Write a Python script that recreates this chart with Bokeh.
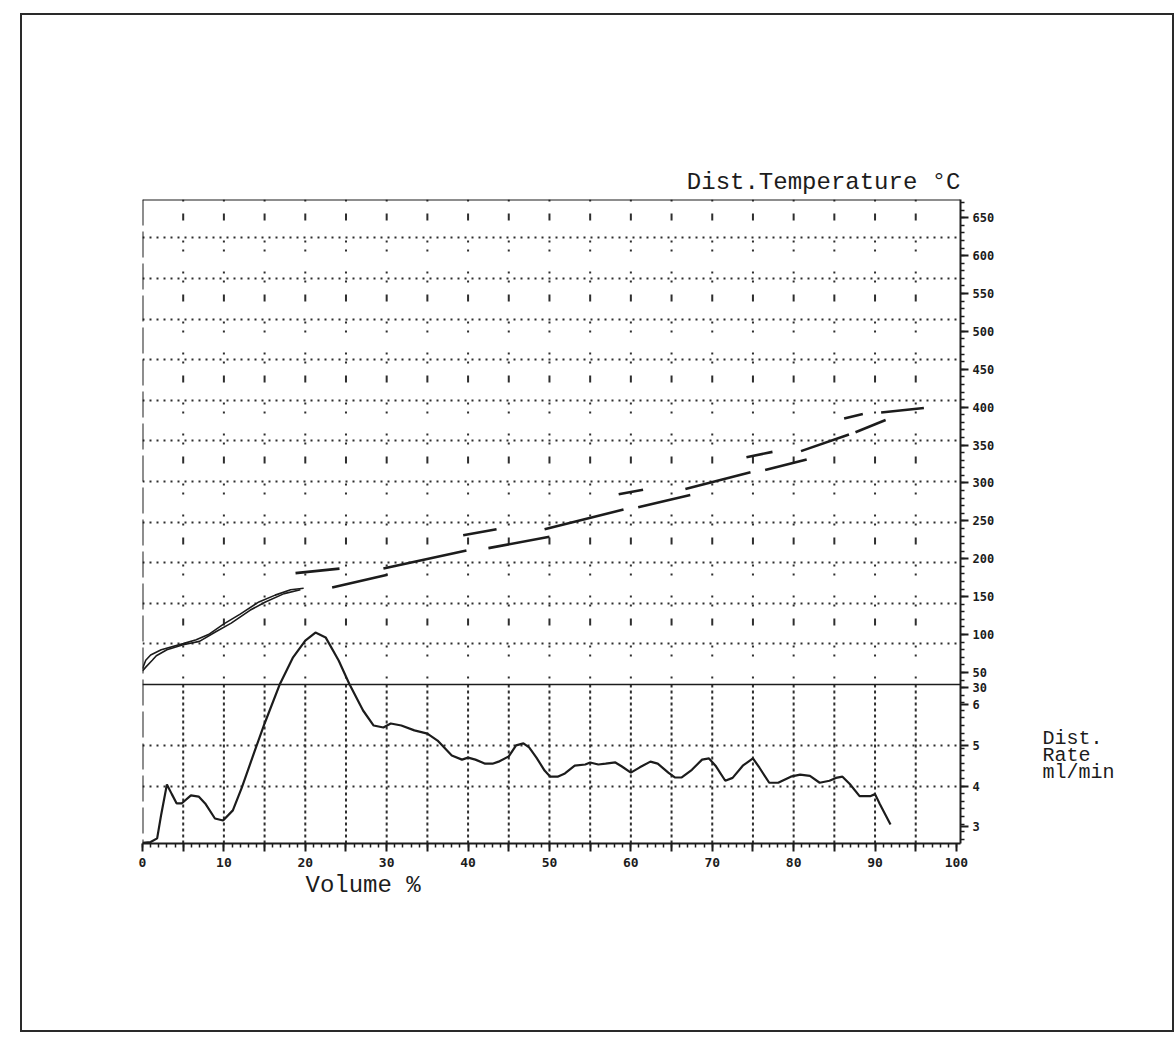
from bokeh.plotting import figure
from bokeh.models import Range1d, LinearAxis, FixedTicker, Grid, Span, Label, ColumnDataSource
from bokeh.embed import file_html
from bokeh.resources import INLINE

# ---- distillation rate (ml/min) against volume distilled (%) ----
rate_volume = [0.0, 1.0, 1.8, 2.3, 3.0, 3.6, 4.2, 4.8, 5.95, 6.9, 7.7, 8.9, 9.9, 11.1, 12.2,
               13.8, 15.0, 16.9, 18.5, 20.0, 21.25, 22.5, 24.1, 25.4, 27.1, 28.4, 29.6, 30.5,
               31.8, 33.4, 35.0, 36.25, 38.0, 39.25, 40.0, 40.9, 42.1, 43.0, 43.75, 45.0, 45.9,
               46.8, 47.5, 48.4, 49.4, 50.1, 51.0, 51.9, 53.1, 54.4, 55.0, 56.0, 56.9, 58.1,
               58.9, 60.0, 61.1, 62.4, 63.3, 64.6, 65.4, 66.25, 67.5, 68.75, 69.6, 70.4, 71.6,
               72.5, 73.75, 75.0, 75.8, 77.0, 78.1, 79.65, 80.8, 82.0, 83.2, 84.4, 85.2, 86.0,
               86.9, 88.1, 89.4, 90.0, 90.6, 91.9]
rate_values = [2.6, 2.62, 2.71, 3.3, 4.04, 3.8, 3.57, 3.57, 3.77, 3.74, 3.57, 3.20, 3.15, 3.40, 3.96,
               4.87, 5.54, 6.52, 7.17, 7.58, 7.78, 7.66, 7.09, 6.52, 5.86, 5.49, 5.44, 5.54,
               5.49, 5.37, 5.29, 5.12, 4.75, 4.65, 4.70, 4.65, 4.55, 4.55, 4.60, 4.73, 5.0,
               5.05, 4.95, 4.70, 4.38, 4.23, 4.23, 4.31, 4.50, 4.53, 4.58, 4.53, 4.55, 4.58,
               4.48, 4.33, 4.46, 4.60, 4.55, 4.33, 4.21, 4.21, 4.40, 4.65, 4.68, 4.50, 4.13,
               4.20, 4.50, 4.68, 4.45, 4.08, 4.08, 4.23, 4.28, 4.25, 4.08, 4.13, 4.20, 4.23,
               4.05, 3.75, 3.75, 3.80, 3.55, 3.05]

# ---- distillation temperature (deg C), two traced strands up to ~20 % ----
temp_volume_a = [0.0, 0.4, 1.0, 2.3, 5.0, 6.6, 8.1, 10.0, 12.0, 14.3, 16.3, 18.2, 19.8]
temp_values_a = [55, 66, 73, 80, 88, 93, 100, 114, 127, 143, 152, 159, 161]
temp_volume_b = [0.0, 0.4, 1.2, 1.7, 3.0, 5.0, 7.0, 8.9, 10.9, 13.2, 15.1, 17.4, 19.4]
temp_values_b = [52, 57, 66, 72, 80, 86.5, 91, 103, 115, 132, 143, 154, 159]

# ---- plotter dashes of the temperature trace above 20 % (start / end) ----
dash_volume_start = [18.8, 23.3, 29.6, 39.4, 42.5, 49.4, 58.5, 60.9, 66.7, 74.2, 76.5, 80.9, 86.2, 87.6, 90.75]
dash_temp_start = [181, 162, 187, 231, 214, 239, 285, 268, 292, 334, 317, 342, 385, 367, 393]
dash_volume_end = [24.2, 30.1, 39.8, 43.5, 50.0, 59.1, 61.5, 67.3, 74.7, 77.4, 81.6, 86.8, 88.5, 91.3, 96.0]
dash_temp_end = [187, 179, 211, 239, 229, 265, 291, 284, 314, 341, 331, 364, 391, 383, 399]

# ---- axis ticks ----
volume_ticks = list(range(0, 101, 5))
volume_labels = {v: (str(v) if v % 10 == 0 else "") for v in volume_ticks}
temp_ticks = [650, 600, 550, 500, 450, 400, 350, 300, 250, 200, 150, 100, 50, 30]
rate_ticks = [6, 5, 4, 3]
rate_grid_levels = [5, 4]
rate_title = ["Dist.", "Rate", "ml/min"]

# ---- layout ----
VOL_RANGE = (0.0, 100.5)
TEMP_RANGE = (-175.7, 674.0)
RATE_RANGE = (2.584, 18.446)
RATE_BASELINE = 6.5          # solid line dividing the two panels
FRAME_W, FRAME_H = 818, 644
LEFT, RIGHT, TOP, BOTTOM = 120, 212, 184, 187

INK = "#1c1c1c"
GRID_INK = "#2e2e2e"
MONO = "Liberation Mono"
DIGITS = "DejaVu Sans Mono"


def rate_as_temp(r):
    """Position of a rate value expressed on the temperature scale."""
    t0, t1 = TEMP_RANGE
    r0, r1 = RATE_RANGE
    return round(t0 + (r - r0) * (t1 - t0) / (r1 - r0), 4)


def vol_at(px):
    """Volume coordinate of a horizontal offset (px) from the frame's left edge."""
    return VOL_RANGE[0] + px * (VOL_RANGE[1] - VOL_RANGE[0]) / FRAME_W


def temp_at(py):
    """Temperature coordinate of a vertical offset (px) from the frame's top edge."""
    return TEMP_RANGE[1] - py * (TEMP_RANGE[1] - TEMP_RANGE[0]) / FRAME_H


p = figure(frame_width=FRAME_W, frame_height=FRAME_H,
           x_range=Range1d(*VOL_RANGE), y_range=Range1d(*TEMP_RANGE),
           x_axis_location=None, y_axis_location=None,
           output_backend="svg", toolbar_location=None,
           min_border_left=LEFT, min_border_right=RIGHT,
           min_border_top=TOP, min_border_bottom=BOTTOM,
           background_fill_color="white", border_fill_color="white",
           outline_line_color=None)
p.extra_y_ranges = {"rate": Range1d(*RATE_RANGE)}
p.xgrid.visible = False
p.ygrid.visible = False
p.margin = (15, 0, 0, 22)
p.styles = {"outline": "2px solid #2a2a2a", "outline-offset": "0px"}

# ---- axes ----
xaxis = LinearAxis(ticker=FixedTicker(ticks=volume_ticks, minor_ticks=list(range(0, 101))),
                   major_label_overrides=volume_labels,
                   axis_line_color=INK, axis_line_width=2,
                   major_tick_line_color=INK, major_tick_line_width=2,
                   major_tick_out=8, major_tick_in=0,
                   minor_tick_line_color=INK, minor_tick_line_width=1.5,
                   minor_tick_out=4, minor_tick_in=0,
                   major_label_standoff=6,
                   major_label_text_font=DIGITS, major_label_text_font_style="bold",
                   major_label_text_font_size="13px", major_label_text_color=INK)
p.add_layout(xaxis, "below")

rate_positions = [rate_as_temp(r) for r in rate_ticks]
right_labels = {t: str(t) for t in temp_ticks}
right_labels.update({pos: str(r) for pos, r in zip(rate_positions, rate_ticks)})
yaxis = LinearAxis(ticker=FixedTicker(ticks=temp_ticks + rate_positions,
                                      minor_ticks=list(range(-170, 671, 10))),
                   major_label_overrides=right_labels,
                   axis_line_color=INK, axis_line_width=2,
                   major_tick_line_color=INK, major_tick_line_width=2,
                   major_tick_out=8, major_tick_in=0,
                   minor_tick_line_color=INK, minor_tick_line_width=1.5,
                   minor_tick_out=4, minor_tick_in=0,
                   major_label_standoff=4,
                   major_label_text_font=DIGITS, major_label_text_font_style="bold",
                   major_label_text_font_size="12px", major_label_text_color=INK)
p.add_layout(yaxis, "right")

# ---- grid ----
upper_levels = [RATE_BASELINE + k for k in range(1, 12)]
p.add_layout(Grid(dimension=1, y_range_name="rate", ticker=FixedTicker(ticks=upper_levels),
                  grid_line_color=GRID_INK, grid_line_width=2, grid_line_dash="2 5"))
p.add_layout(Grid(dimension=1, y_range_name="rate", ticker=FixedTicker(ticks=rate_grid_levels),
                  grid_line_color=GRID_INK, grid_line_width=2, grid_line_dash="2 5"))

grid_x = [v for v in volume_ticks if 0 < v < 100]
lower = ColumnDataSource(dict(x=grid_x, y0=[RATE_BASELINE] * len(grid_x), y1=[RATE_RANGE[0]] * len(grid_x)))
p.segment(x0="x", y0="y0", x1="x", y1="y1", source=lower, y_range_name="rate",
          line_color=GRID_INK, line_width=2, line_dash="3 3")
upper = ColumnDataSource(dict(x=grid_x, y0=[RATE_RANGE[1]] * len(grid_x), y1=[RATE_BASELINE] * len(grid_x)))
p.segment(x0="x", y0="y0", x1="x", y1="y1", source=upper, y_range_name="rate",
          line_color=GRID_INK, line_width=2, line_dash="2 12 7 20 2 7 2 20 2 7")

# ---- frame lines ----
p.add_layout(Span(location=VOL_RANGE[0], dimension="height", line_color=INK, line_width=2,
                  line_dash="26 6"))
p.add_layout(Span(location=RATE_RANGE[1], dimension="width", y_range_name="rate",
                  line_color=INK, line_width=2))
p.add_layout(Span(location=RATE_BASELINE, dimension="width", y_range_name="rate",
                  line_color=INK, line_width=1.6))

# ---- curves ----
p.line(temp_volume_a, temp_values_a, line_color=INK, line_width=1.6)
p.line(temp_volume_b, temp_values_b, line_color=INK, line_width=1.6)
p.segment(x0=dash_volume_start, y0=dash_temp_start, x1=dash_volume_end, y1=dash_temp_end,
          line_color=INK, line_width=2.6)
p.line(rate_volume, rate_values, y_range_name="rate", line_color=INK, line_width=2.2)

# ---- texts (placed in the side panels so they are not clipped to the frame) ----
text_style = dict(text_font=MONO, text_font_size="24px", text_color=INK)
p.add_layout(Label(x=vol_at(818), y=temp_at(-4), text="Dist.Temperature °C",
                   text_align="right", text_baseline="bottom", **text_style), "above")
p.add_layout(Label(x=vol_at(163), y=temp_at(644 + 42), text="Volume %",
                   text_align="left", text_baseline="middle", **text_style), "below")
for i, line in enumerate(rate_title):
    p.add_layout(Label(x=vol_at(900), y=temp_at(539 + 17 * i), text=line,
                       text_font=MONO, text_font_size="20px", text_color=INK,
                       text_align="left", text_baseline="middle"), "below")

open("out.html", "w").write(file_html(p, INLINE))
